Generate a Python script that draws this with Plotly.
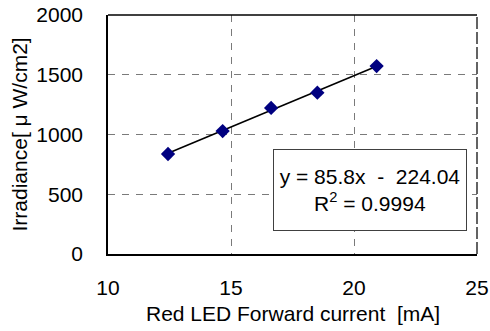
import plotly.graph_objects as go

current_mA = [12.44, 14.66, 16.63, 18.51, 20.92]
irradiance = [837, 1029, 1222, 1350, 1573]
fit_slope = 85.8
fit_intercept = -224.04
r_squared = 0.9994
x_ticks = [10, 15, 20, 25]
y_ticks = [0, 500, 1000, 1500, 2000]

font = "Liberation Sans, Arial, sans-serif"
FS = 21

fit_x = [min(current_mA), max(current_mA)]
fit_y = [fit_slope * v + fit_intercept for v in fit_x]

fig = go.Figure()
fig.add_trace(go.Scatter(x=fit_x, y=fit_y, mode="lines",
                         line=dict(color="black", width=1.6), showlegend=False))
fig.add_trace(go.Scatter(x=current_mA, y=irradiance, mode="markers",
                         marker=dict(symbol="diamond", size=11, color="#000080"),
                         showlegend=False))

fig.update_layout(
    width=490, height=331,
    margin=dict(l=108, r=13, t=15, b=77),
    paper_bgcolor="white", plot_bgcolor="white",
    font=dict(family=font, size=FS, color="black"),
    xaxis=dict(range=[10, 25], tickvals=x_ticks, showgrid=True, gridcolor="#7a7a7a",
               griddash="7px,7px", gridwidth=1.2, showline=True, linecolor="black", linewidth=1.5,
               ticks="", ticklabelstandoff=14, zeroline=False, automargin=False),
    yaxis=dict(range=[0, 2000], tickvals=y_ticks, showgrid=True, gridcolor="#7a7a7a",
               griddash="7px,7px", gridwidth=1.2, showline=True, linecolor="black", linewidth=1.5,
               ticks="", ticklabelstandoff=19, zeroline=False, automargin=False),
)
# top border
fig.add_shape(type="line", xref="paper", yref="paper", x0=0, x1=1, y0=1, y1=1,
              line=dict(color="black", width=1.5))
# right border (dark dashed)
fig.add_shape(type="line", xref="paper", yref="paper", x0=1, x1=1, y0=0, y1=1,
              line=dict(color="#303030", width=1.5, dash="12px,3px"))

fig.add_annotation(xref="paper", yref="paper", x=0.5, y=-0.247, yanchor="middle",
                   xanchor="center", text="Red LED Forward current  [mA]", showarrow=False,
                   font=dict(size=FS))
fig.add_annotation(xref="paper", yref="paper", x=-0.2385, y=0.5, xanchor="center",
                   yanchor="middle", text="Irradiance[ μ W/cm2]", textangle=-90,
                   showarrow=False, font=dict(size=FS))
fig.add_annotation(xref="paper", yref="paper", x=0.709, y=0.266,
                   xanchor="center", yanchor="middle",
                   text=f"y = {fit_slope}x  -  {abs(fit_intercept)}<br>R<sup>2</sup> = {r_squared}",
                   showarrow=False, align="center", bgcolor="white",
                   bordercolor="#404040", borderwidth=1, borderpad=3,
                   font=dict(size=FS), width=186, height=74)

fig.write_html("out.html")
